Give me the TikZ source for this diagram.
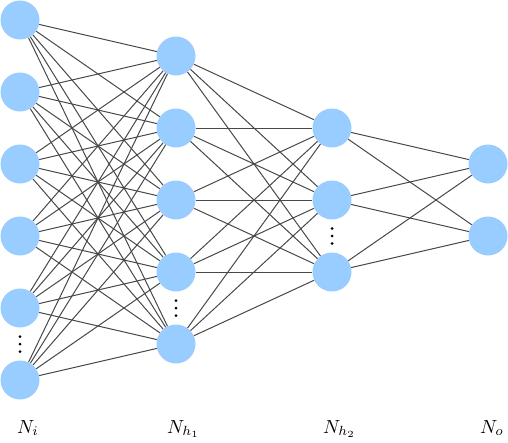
\documentclass[tikz,border=0pt]{standalone}
\usepackage{graphicx}
\usetikzlibrary{positioning}
\definecolor{cNeuron}{HTML}{99CCFF}
\definecolor{cEdge}{HTML}{484848}
\newcommand{\layername}[1]{\scalebox{1.9}{$#1$}}

\begin{document}
\begin{tikzpicture}[x=1pt,y=-1pt,
    neuron/.style={circle,fill=cNeuron,minimum size=39pt,inner sep=0pt},
    edge/.style={draw=cEdge,line width=1pt},
    layerlabel/.style={anchor=base west,inner sep=0pt}]
  \useasboundingbox (0,0) rectangle (508,442);
  % neurons, one column per layer
  \foreach \k in {1,...,6}
    \node[neuron] (in\k) at (20,{20+72*(\k-1)}) {};
  \foreach \k in {1,...,5}
    \node[neuron] (ha\k) at (176,{56+72*(\k-1)}) {};
  \foreach \k in {1,...,3}
    \node[neuron] (hb\k) at (332,{128+72*(\k-1)}) {};
  \foreach \k in {1,2}
    \node[neuron] (out\k) at (488,{164+72*(\k-1)}) {};
  % fully connected edges
  \foreach \a in {1,...,6}
    \foreach \b in {1,...,5}
      \draw[edge] (in\a) -- (ha\b);
  \foreach \a in {1,...,5}
    \foreach \b in {1,...,3}
      \draw[edge] (ha\a) -- (hb\b);
  \foreach \a in {1,...,3}
    \foreach \b in {1,2}
      \draw[edge] (hb\a) -- (out\b);
  % vertical dots
  \foreach \x/\y in {20/344,176/308,332/236}
    \foreach \d in {-7.5,0,7.5}
      \fill (\x,{\y+\d}) circle (1.5);
  % layer labels
  \node[layerlabel] (lin) at (17,433) {\layername{N_i}};
  \node[layerlabel] (lha) at (167,433) {\layername{N_{h_1}}};
  \node[layerlabel] (lhb) at (323,433) {\layername{N_{h_2}}};
  \node[layerlabel] (lout) at (480,433) {\layername{N_o}};
\end{tikzpicture}
\end{document}
